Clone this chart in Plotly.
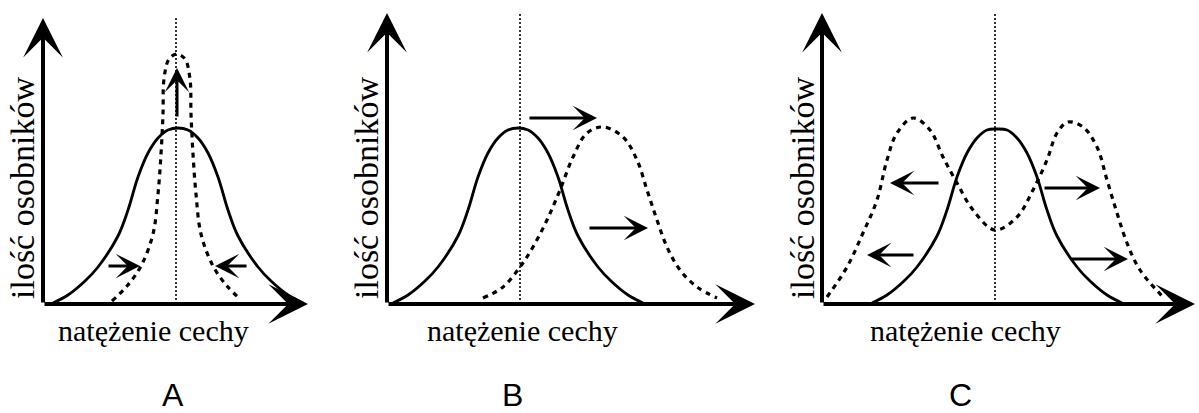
import plotly.graph_objects as go

W, H = 1199, 413

# ---------------- data (trait intensity units, number of individuals units) ----------------
# Panel A - stabilizing selection
A_solid_x = [1.0, 2.5, 4.2, 5.5, 7.5, 8.5, 9.5, 10.5, 11.5, 12.5, 13.5, 14.5, 15.5, 16.5, 17.5, 18.5, 19.5, 21.5, 22.8, 24.5, 26.0]
A_solid_y = [0.1, 0.9, 2.3, 3.7, 6.8, 9.4, 12.7, 15.1, 16.6, 17.4, 17.6, 17.4, 16.6, 15.1, 12.7, 9.4, 6.8, 3.7, 2.3, 0.9, 0.1]
A_dash_x = [6.9, 8.4, 9.8, 11.0, 11.5, 11.8, 12.0, 12.1, 12.6, 13.4, 14.2, 14.7, 14.8, 15.0, 15.3, 15.8, 17.0, 18.4, 19.6]
A_dash_y = [0.3, 1.8, 3.8, 7.0, 11.0, 15.0, 19.0, 22.5, 24.5, 25.0, 24.5, 22.5, 19.0, 15.0, 11.0, 7.0, 3.8, 1.8, 0.6]
A_mean = 13.3
A_axis_x_end = 26.5
A_axis_y_end = 28.6
# arrows: (tail_x, tail_y, tip_x, tip_y)
A_arrows = [(13.4, 18.6, 13.4, 23.6), (6.4, 3.8, 9.7, 3.8), (20.5, 3.8, 17.2, 3.8)]

# Panel B - directional selection
B_solid_x = [0.6, 2.1, 3.8, 5.1, 7.1, 8.1, 9.1, 10.1, 11.1, 12.1, 13.1, 14.1, 15.1, 16.1, 17.1, 18.1, 19.1, 21.1, 22.4, 24.1, 25.6]
B_solid_y = [0.1, 0.9, 2.3, 3.7, 6.8, 9.4, 12.7, 15.1, 16.6, 17.4, 17.6, 17.4, 16.6, 15.1, 12.7, 9.4, 6.8, 3.7, 2.3, 0.9, 0.1]
B_dash_x = [9.6, 11.6, 13.3, 14.6, 16.0, 17.3, 18.6, 20.0, 21.6, 23.6, 25.0, 26.0, 27.0, 28.0, 29.3, 31.0, 33.0]
B_dash_y = [0.6, 1.7, 3.7, 5.7, 8.4, 11.4, 14.7, 17.1, 17.7, 16.7, 14.4, 11.4, 8.4, 5.7, 3.4, 1.7, 0.6]
B_mean = 13.3
B_axis_x_end = 36.8
B_axis_y_end = 29.1
B_arrows = [(14.1, 18.6, 21.0, 18.6), (20.1, 7.6, 26.1, 7.6)]

# Panel C - disruptive selection
C_solid_x = [5.0, 6.5, 8.2, 9.5, 11.5, 12.5, 13.5, 14.5, 15.5, 16.5, 17.5, 18.5, 19.5, 20.5, 21.5, 22.5, 23.5, 25.5, 26.8, 28.5, 30.0]
C_solid_y = [0.1, 0.9, 2.3, 3.7, 6.8, 9.4, 12.7, 15.1, 16.6, 17.4, 17.5, 17.4, 16.6, 15.1, 12.7, 9.4, 6.8, 3.7, 2.3, 0.9, 0.1]
C_dash_x = [0.5, 2.5, 4.1, 5.5, 6.5, 7.5, 9.1, 10.8, 12.1, 13.5, 15.1, 17.3, 19.5, 21.1, 22.5, 23.5, 24.6, 26.1, 27.5, 28.5, 29.5, 30.5, 31.8, 34.1]
C_dash_y = [0.7, 3.7, 7.1, 10.4, 14.4, 17.1, 18.6, 17.4, 14.7, 12.1, 9.4, 7.4, 8.7, 11.4, 14.4, 17.1, 18.2, 17.7, 15.7, 12.4, 9.1, 6.1, 3.4, 0.7]
C_mean = 17.3
C_axis_x_end = 37.3
C_axis_y_end = 29.1
C_arrows = [(11.8, 12.1, 6.8, 12.1), (22.1, 11.6, 27.8, 11.6), (9.3, 4.9, 4.5, 4.9), (24.8, 4.5, 30.6, 4.5)]

y_label = "ilość osobników"
x_label = "natężenie cechy"
panel_letters = ["A", "B", "C"]

# ---------------- figure ----------------
fig = go.Figure()

panels = [
    ("x", "y", A_solid_x, A_solid_y, A_dash_x, A_dash_y, A_mean, A_axis_x_end, A_axis_y_end, A_arrows),
    ("x2", "y2", B_solid_x, B_solid_y, B_dash_x, B_dash_y, B_mean, B_axis_x_end, B_axis_y_end, B_arrows),
    ("x3", "y3", C_solid_x, C_solid_y, C_dash_x, C_dash_y, C_mean, C_axis_x_end, C_axis_y_end, C_arrows),
]

annotations = []
for xa, ya, sx, sy, dx, dy, mean, axe, aye, arrows in panels:
    fig.add_trace(go.Scatter(x=sx, y=sy, xaxis=xa, yaxis=ya, mode="lines",
                             line=dict(color="black", width=2.8, shape="spline", smoothing=1.0),
                             hoverinfo="skip", showlegend=False))
    fig.add_trace(go.Scatter(x=dx, y=dy, xaxis=xa, yaxis=ya, mode="lines",
                             line=dict(color="black", width=3.2, dash="5px,5px", shape="spline", smoothing=1.0),
                             hoverinfo="skip", showlegend=False))
    fig.add_trace(go.Scatter(x=[mean, mean], y=[0, aye], xaxis=xa, yaxis=ya, mode="lines",
                             line=dict(color="black", width=1.6, dash="2px,2px"),
                             hoverinfo="skip", showlegend=False))
    # axes arrows
    for (tx, ty, hx, hy) in [(0, 0, 0, aye), (0, 0, axe, 0)]:
        annotations.append(dict(x=hx, y=hy, ax=tx, ay=ty, xref=xa, yref=ya, axref=xa, ayref=ya,
                                text="", showarrow=True, arrowhead=3, arrowsize=1.65,
                                arrowwidth=4, arrowcolor="black", standoff=0, startstandoff=0))
    for (tx, ty, hx, hy) in arrows:
        annotations.append(dict(x=hx, y=hy, ax=tx, ay=ty, xref=xa, yref=ya, axref=xa, ayref=ya,
                                text="", showarrow=True, arrowhead=3, arrowsize=1.35,
                                arrowwidth=3, arrowcolor="black", standoff=0, startstandoff=0))

def px(x):
    return x / W

def py(y):
    return 1 - y / H

ylab_pos = [(22, 188), (366, 188), (802, 188)]
xlab_pos = [(153, 330), (522, 330), (965, 330)]
letter_pos = [(173, 395), (512, 395), (960, 395)]

for (lx, ly) in ylab_pos:
    annotations.append(dict(x=px(lx), y=py(ly), xref="paper", yref="paper", text=y_label,
                            showarrow=False, textangle=-90, xanchor="center", yanchor="middle",
                            font=dict(family="Liberation Serif", size=34, color="black")))
for (lx, ly) in xlab_pos:
    annotations.append(dict(x=px(lx), y=py(ly), xref="paper", yref="paper", text=x_label,
                            showarrow=False, xanchor="center", yanchor="middle",
                            font=dict(family="Liberation Serif", size=30, color="black")))
for (lx, ly), t in zip(letter_pos, panel_letters):
    annotations.append(dict(x=px(lx), y=py(ly), xref="paper", yref="paper", text=t,
                            showarrow=False, xanchor="center", yanchor="middle",
                            font=dict(family="Liberation Sans", size=32, color="black")))

ydom = [1 - 314 / H, 1]
yr = [-1, 30.4]
hidden = dict(visible=False, showgrid=False, zeroline=False, fixedrange=True)

fig.update_layout(
    width=W, height=H, margin=dict(l=0, r=0, t=0, b=0),
    paper_bgcolor="white", plot_bgcolor="white", showlegend=False,
    xaxis=dict(domain=[33 / W, 323 / W], range=[-1, 28], anchor="y", **hidden),
    xaxis2=dict(domain=[377 / W, 767 / W], range=[-1, 38], anchor="y2", **hidden),
    xaxis3=dict(domain=[812 / W, 1.0], range=[-1, 37.7], anchor="y3", **hidden),
    yaxis=dict(domain=ydom, range=yr, anchor="x", **hidden),
    yaxis2=dict(domain=ydom, range=yr, anchor="x2", **hidden),
    yaxis3=dict(domain=ydom, range=yr, anchor="x3", **hidden),
    annotations=annotations,
)

fig.write_html("out.html", config={"displayModeBar": False},
               post_script="document.body.style.margin='0';document.body.style.overflow='hidden';")
